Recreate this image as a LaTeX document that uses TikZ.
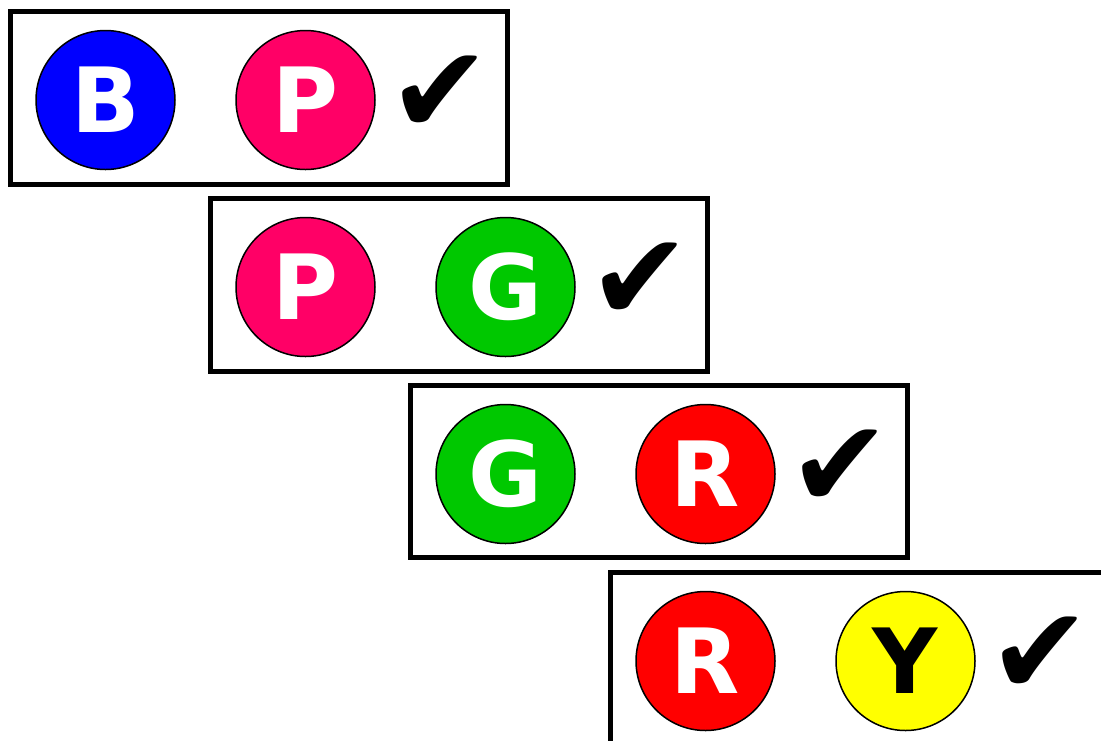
\documentclass[tikz,border=0pt]{standalone}
\usepackage{fontspec}
\setmainfont{DejaVu Sans}
\definecolor{ballblue}{RGB}{0,0,255}
\definecolor{ballpink}{RGB}{255,0,102}
\definecolor{ballgreen}{RGB}{0,200,0}
\definecolor{ballred}{RGB}{255,0,0}
\definecolor{ballyellow}{RGB}{255,255,0}
\tikzset{
    pairbox/.style={draw, line width=5pt, minimum width=496.5pt, minimum height=172.5pt, inner sep=0pt},
    ball/.style={circle, draw, line width=1.5pt, minimum size=139pt, inner sep=0pt, text=white, font=\fontsize{90}{90}\selectfont\bfseries},
    tick/.style={inner sep=0pt, font=\fontsize{123}{123}\selectfont\bfseries}
}

\begin{document}
\begin{tikzpicture}[x=1pt, y=-1pt]
\useasboundingbox (0,0) rectangle (1101,740);
\clip (0,0) rectangle (1101,740);
% pair boxes
\node[pairbox] (boxbp) at (258.75,97.75) {};
\node[pairbox] (boxpg) at (458.75,284.75) {};
\node[pairbox] (boxgr) at (658.75,471.25) {};
\node[pairbox] (boxry) at (858.75,658.25) {};
% balls
\node[ball, fill=ballblue] (b1) at (105.5,100) {B};
\node[ball, fill=ballpink] (p1) at (305.5,100) {P};
\node[ball, fill=ballpink] (p2) at (305.5,287) {P};
\node[ball, fill=ballgreen] (g2) at (505.5,287) {G};
\node[ball, fill=ballgreen] (g3) at (505.5,474) {G};
\node[ball, fill=ballred] (r3) at (705.5,474) {R};
\node[ball, fill=ballred] (r4) at (705.5,661) {R};
\node[ball, fill=ballyellow, text=black] (y4) at (905.5,661) {Y};
% ticks
\node[tick] (tick1) at (440.5,95) {✔};
\node[tick] (tick2) at (640.5,282) {✔};
\node[tick] (tick3) at (840.5,469) {✔};
\node[tick] (tick4) at (1040.5,656) {✔};
\end{tikzpicture}
\end{document}
